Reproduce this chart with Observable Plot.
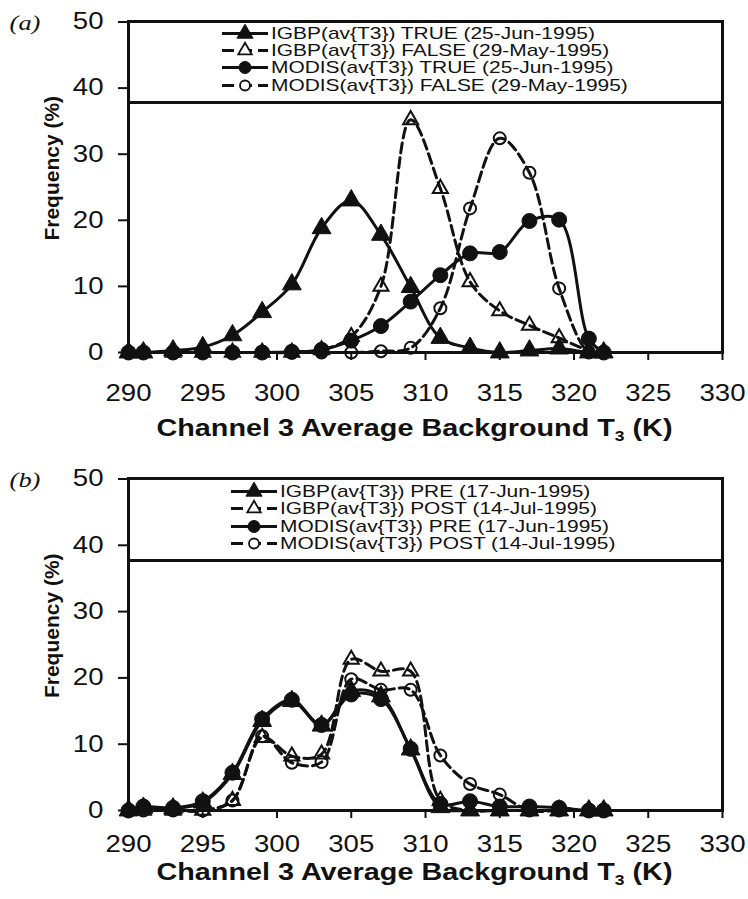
<!DOCTYPE html>
<html>
<head>
<meta charset="utf-8">
<script src="https://cdn.jsdelivr.net/npm/d3@7"></script>
<script src="https://cdn.jsdelivr.net/npm/@observablehq/plot@0.6"></script>
<style>
  html, body { margin: 0; padding: 0; background: #fff; }
  #fig { position: relative; width: 748px; height: 899px; overflow: hidden; font-family: "Liberation Sans", Arial, sans-serif; color: #111; }
  .panel { position: absolute; left: 0; }
  .legend { position: absolute; background: #fff; border: 3px solid #111; box-sizing: border-box; }
  .entry { position: absolute; height: 15px; display: flex; align-items: center; white-space: nowrap; }
  .entry svg { flex: none; }
  .entry span { display: inline-block; font-size: 17px; line-height: 15px; height: 15px; transform: scaleX(1.23); transform-origin: left center; margin-left: 3px; }
</style>
</head>
<body>
<div id="fig"></div>
<script>
// ---------- data ----------
const temps = [290, 291, 293, 295, 297, 299, 301, 303, 305, 307, 309, 311, 313, 315, 317, 319, 321, 322];
const xTickValues = [290, 295, 300, 305, 310, 315, 320, 325, 330];
const yTickValues = [0, 10, 20, 30, 40, 50];

// panel (a)
const igbpTrueA   = [0, 0, 0.3, 0.8, 2.6, 6.1, 10.3, 18.8, 23.0, 17.8, 9.9, 2.2, 0.7, 0, 0.3, 0.6, 0, 0];
const igbpFalseA  = [0, 0, 0, 0, 0, 0, 0, 0.4, 2.4, 10.0, 35.2, 24.8, 10.7, 6.3, 4.1, 2.2, 0.3, 0];
const modisTrueA  = [0, 0, 0, 0, 0, 0, 0.1, 0.4, 1.8, 4.0, 7.7, 11.7, 15.0, 15.2, 19.9, 20.1, 2.1, 0];
const modisFalseA = [0, 0, 0, 0, 0, 0, 0, 0, 0, 0.2, 0.7, 6.7, 21.8, 32.4, 27.2, 9.7, 0, 0];

// panel (b)
const igbpPreB   = [0, 0.4, 0.3, 1.2, 5.5, 13.5, 16.5, 12.8, 18.0, 17.2, 9.2, 0.5, 0, 0, 0, 0, 0, 0];
const igbpPostB  = [0, 0, 0, 0, 1.5, 11.0, 8.2, 8.5, 22.8, 21.0, 21.0, 1.5, 0, 0, 0, 0, 0, 0];
const modisPreB  = [0, 0.6, 0.4, 1.4, 5.7, 13.8, 16.7, 12.9, 17.5, 16.8, 9.3, 1.0, 1.4, 0.6, 0.6, 0.4, 0, 0];
const modisPostB = [0, 0, 0, 0, 1.5, 11.2, 7.2, 7.3, 19.8, 18.2, 18.2, 8.3, 4.0, 2.4, 0, 0, 0, 0];

const legendA = ["IGBP(av{T3}) TRUE (25-Jun-1995)", "IGBP(av{T3}) FALSE (29-May-1995)", "MODIS(av{T3}) TRUE (25-Jun-1995)", "MODIS(av{T3}) FALSE (29-May-1995)"];
const legendB = ["IGBP(av{T3}) PRE (17-Jun-1995)", "IGBP(av{T3}) POST (14-Jul-1995)", "MODIS(av{T3}) PRE (17-Jun-1995)", "MODIS(av{T3}) POST (14-Jul-1995)"];
const panelLabels = ["(a)", "(b)"];
const yTitle = "Frequency (%)";
const xTitle = "Channel 3 Average Background T₃ (K)";

// ---------- styles ----------
const INK = "#111";
const seriesStyles = [
  {symbol: "triangle", filled: true,  dashed: false, r: 7},
  {symbol: "triangle", filled: false, dashed: true,  r: 5.6},
  {symbol: "circle",   filled: true,  dashed: false, r: 7.5},
  {symbol: "circle",   filled: false, dashed: true,  r: 6}
];

const panels = [
  {label: panelLabels[0], values: [igbpTrueA, igbpFalseA, modisTrueA, modisFalseA], legend: legendA,
   top: 0, height: 450, marginTop: 21.5, marginBottom: 98, xPad: 24, titleDy: 76, yTitleDy: -19,
   legendSampleX: 222, legendOffsets: [11.8, 29.1, 46.4, 63.7], legendHeight: 81},
  {label: panelLabels[1], values: [igbpPreB, igbpPostB, modisPreB, modisPostB], legend: legendB,
   top: 450, height: 449, marginTop: 28.5, marginBottom: 89, xPad: 17, titleDy: 62, yTitleDy: -19,
   legendSampleX: 231, legendOffsets: [13.0, 30.3, 47.6, 64.9], legendHeight: 82}
];

const fig = document.getElementById("fig");
const MARGIN_LEFT = 128, MARGIN_RIGHT = 26;

function buildPanel(p) {
  const marks = [
    Plot.frame({stroke: INK, strokeWidth: 3}),
    Plot.axisX({ticks: xTickValues, tickSize: 8, tickPadding: p.xPad, tickFormat: d => String(d),
                fontSize: 23, strokeWidth: 2, stroke: INK, fill: INK, label: null}),
    Plot.axisY({ticks: yTickValues, tickSize: 10, tickPadding: 15,
                fontSize: 23, strokeWidth: 2, stroke: INK, fill: INK, label: null})
  ];
  p.values.forEach((vals, i) => {
    const st = seriesStyles[i];
    const rows = temps.map((t, j) => ({t, f: vals[j]}));
    marks.push(Plot.line(rows, {x: "t", y: "f", curve: "catmull-rom", stroke: INK, strokeWidth: 3,
      strokeDasharray: st.dashed ? "10,5" : null}));
    marks.push(Plot.dot(rows, {x: "t", y: "f", symbol: st.symbol, r: st.r,
      fill: st.filled ? INK : "none", stroke: INK, strokeWidth: st.filled ? 1 : 2}));
  });
  marks.push(Plot.text([yTitle], {text: d => d, frameAnchor: "left", textAnchor: "middle", lineAnchor: "middle",
    rotate: -90, dx: -76, dy: p.yTitleDy, fontWeight: "bold", fontSize: 21, fill: INK}));
  marks.push(Plot.text([xTitle], {text: d => d, frameAnchor: "bottom", textAnchor: "middle", lineAnchor: "middle",
    dy: p.titleDy, dx: -11, fontWeight: "bold", fontSize: 23, fill: INK}));
  marks.push(Plot.text([p.label], {text: d => d, frameAnchor: "top-left", textAnchor: "middle", lineAnchor: "middle",
    dx: -103.5, dy: 1,
    fontFamily: "Liberation Serif, Times New Roman, serif", fontStyle: "italic", fontSize: 22, fill: INK}));

  const svg = Plot.plot({
    width: 748, height: p.height,
    marginLeft: MARGIN_LEFT, marginRight: MARGIN_RIGHT, marginTop: p.marginTop, marginBottom: p.marginBottom,
    x: {domain: [290, 330]},
    y: {domain: [0, 50]},
    style: {fontFamily: "Liberation Sans, Arial, sans-serif", fontSize: "23px", color: INK, background: "white", overflow: "visible"},
    marks
  });
  const wrap = document.createElement("div");
  wrap.className = "panel";
  wrap.style.top = p.top + "px";
  wrap.appendChild(svg);
  fig.appendChild(wrap);

  // subscript in the x title, then horizontal stretch of texts like the scan
  svg.querySelectorAll("text").forEach(t => {
    const s = t.textContent;
    if (s.includes("T₃")) {
      const [pre, post] = s.split("T₃");
      while (t.firstChild) t.removeChild(t.firstChild);
      t.appendChild(document.createTextNode(pre + "T"));
      const sub = document.createElementNS("http://www.w3.org/2000/svg", "tspan");
      sub.setAttribute("font-size", "14");
      sub.setAttribute("dy", "5");
      sub.textContent = "3";
      t.appendChild(sub);
      const rest = document.createElementNS("http://www.w3.org/2000/svg", "tspan");
      rest.setAttribute("dy", "-5");
      rest.textContent = post;
      t.appendChild(rest);
    }
  });
  svg.querySelectorAll("text").forEach(t => {
    const s = t.textContent;
    if (s.startsWith("Frequency")) return;
    const w = t.getComputedTextLength();
    const target = s.startsWith("Channel") ? 516 : w * 1.2;
    t.setAttribute("textLength", target.toFixed(1));
    t.setAttribute("lengthAdjust", "spacingAndGlyphs");
  });

  // legend box (Excel style, inside top of plot area)
  const box = document.createElement("div");
  box.className = "legend";
  const plotW = 748 - MARGIN_LEFT - MARGIN_RIGHT;
  box.style.left = (MARGIN_LEFT - 1.5) + "px";
  box.style.top = (p.top + p.marginTop - 1.5) + "px";
  box.style.width = (plotW + 3) + "px";
  box.style.height = (p.legendHeight + 3) + "px";
  p.legend.forEach((name, i) => {
    const st = seriesStyles[i];
    const e = document.createElement("div");
    e.className = "entry";
    e.style.left = (p.legendSampleX - MARGIN_LEFT - 1.5) + "px";
    e.style.top = (p.legendOffsets[i] - 7.5 - 1.5) + "px";
    const ns = "http://www.w3.org/2000/svg";
    const sv = document.createElementNS(ns, "svg");
    sv.setAttribute("width", "46"); sv.setAttribute("height", "15");
    sv.style.overflow = "visible";
    const ln = document.createElementNS(ns, "line");
    ln.setAttribute("x1", "0"); ln.setAttribute("x2", "46"); ln.setAttribute("y1", "7.5"); ln.setAttribute("y2", "7.5");
    ln.setAttribute("stroke", INK); ln.setAttribute("stroke-width", "3");
    if (st.dashed) ln.setAttribute("stroke-dasharray", "12,6");
    sv.appendChild(ln);
    const mk = document.createElementNS(ns, "path");
    const size = Math.PI * (st.filled ? 6 : 5) ** 2;
    const sym = st.symbol === "circle" ? d3.symbolCircle : d3.symbolTriangle;
    mk.setAttribute("d", d3.symbol(sym, size)());
    mk.setAttribute("transform", "translate(23,7.5)");
    mk.setAttribute("fill", st.filled ? INK : "#fff");
    mk.setAttribute("stroke", INK);
    mk.setAttribute("stroke-width", st.filled ? "1" : "1.8");
    sv.appendChild(mk);
    e.appendChild(sv);
    const sp = document.createElement("span");
    sp.textContent = name;
    e.appendChild(sp);
    box.appendChild(e);
  });
  fig.appendChild(box);
}

panels.forEach(buildPanel);
</script>
</body>
</html>
